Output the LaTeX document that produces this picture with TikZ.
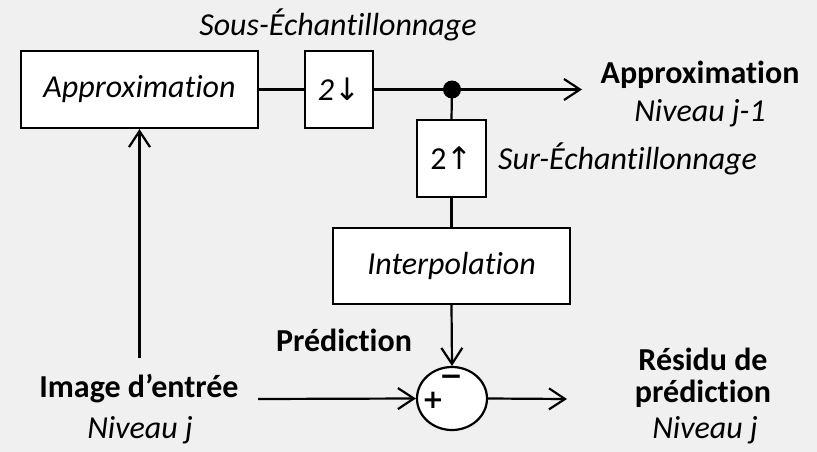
\documentclass[tikz,border=0pt]{standalone}
\usepackage{fontspec}
\setmainfont{Carlito}[Ligatures=NoCommon]
\newfontfamily\symfont{DejaVu Sans}
\usetikzlibrary{arrows.meta,shapes.geometric}
\definecolor{paper}{RGB}{240,240,240}
\begin{document}
\begin{tikzpicture}[x=1pt,y=-1pt,
  every node/.style={font=\fontsize{32}{38}\selectfont, inner sep=0pt},
  blk/.style={draw, fill=white, line width=2.2pt, minimum height=77pt},
  wire/.style={line width=2.2pt},
  arr/.style={wire, -{Straight Barb[length=16pt,width=21pt,line width=2.2pt]}},
  lbl/.style={font=\fontsize{32}{38}\selectfont\itshape},
  hdr/.style={font=\fontsize{32}{38}\selectfont\bfseries},
  sign/.style={font=\fontsize{26}{26}\selectfont\symfont\bfseries}]
  % paper background and frame of the picture
  \fill[paper] (0,0) rectangle (817,452);
  \useasboundingbox (0,0) rectangle (817,452);

  % processing blocks
  \node[blk, minimum width=237pt] (approx) at (139.5,89.5) {\itshape Approximation};
  \node[blk, minimum width=68pt] (down) at (339,89.5) {\itshape 2{\symfont\fontsize{31}{31}\selectfont ↓}};
  \node[blk, minimum width=69pt] (up) at (451.5,158.5) {2{\symfont\fontsize{31}{31}\selectfont ↑}};
  \node[blk, minimum width=237pt, minimum height=76pt] (interp) at (451.5,266) {\itshape Interpolation};
  \node[draw, fill=white, line width=2.2pt, ellipse, minimum width=70pt, minimum height=63pt] (sum) at (452,398.5) {};
  \node[sign] (plus) at (433,400) {+};
  \node[sign, font=\fontsize{28}{28}\selectfont\symfont\bfseries] (minus) at (451,380) {−};

  % junction and free ends
  \node[circle, fill=black, minimum size=18pt] (dot) at (452,89.5) {};
  \coordinate (outA) at (582,89.5);
  \coordinate (inBot) at (139.5,358);
  \coordinate (inL) at (258,399);
  \coordinate (outR) at (567,399);

  % connectors
  \draw[wire] (approx.east) -- (down.west);
  \draw[wire] (down.east) -- (dot.center);
  \draw[arr] (dot.center) -- (outA);
  \draw[wire] (dot.center) -- (up.north);
  \draw[wire] (up.south) -- (interp.north);
  \draw[arr] (interp.south) -- (sum.north);
  \draw[arr] (inBot) -- (approx.south);
  \draw[arr] (inL) -- (sum.west);
  \draw[arr] (sum.east) -- (outR);

  % labels
  \node[lbl] (subs) at (338,25) {Sous-Échantillonnage};
  \node[lbl, anchor=west] (sur) at (498,159) {Sur-Échantillonnage};
  \node[hdr] (appT) at (700,75) {Approximation};
  \node[lbl] (appN) at (700,113) {Niveau j-1};
  \node[hdr] (pred) at (344,340) {Prédiction};
  \node[hdr] (img) at (139,389) {Image d’entrée};
  \node[lbl] (imgN) at (140,430) {Niveau j};
  \node[hdr] (res1) at (703,359) {Résidu de};
  \node[hdr] (res2) at (703,394) {prédiction};
  \node[lbl] (resN) at (705,430) {Niveau j};
\end{tikzpicture}
\end{document}
